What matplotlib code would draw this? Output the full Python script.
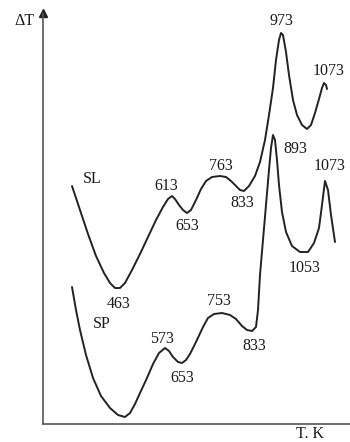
import matplotlib
matplotlib.use("Agg")
import matplotlib.pyplot as plt

# DTA traces (arbitrary position / ΔT units, origin at the axes corner)
sl_x = [29, 37, 45, 53, 61, 67, 72, 77, 82, 89, 97, 105, 113, 120, 125, 129,
        132, 136, 140, 144, 148, 153, 158, 163, 169, 177, 183, 188, 193, 197,
        201, 206, 212, 217, 222, 226, 230, 233, 236, 238, 240, 243, 246, 250,
        254, 259, 264, 268, 272, 276, 279, 281, 283, 284]
sl_y = [238, 214, 190, 168, 151, 141, 136, 136, 141, 154, 170, 187, 204, 217,
        225, 228, 225, 219, 214, 211, 214, 224, 235, 243, 247, 248, 247, 243,
        238, 234, 233, 238, 248, 262, 284, 309, 336, 364, 384, 391, 389, 372,
        349, 324, 309, 299, 295, 299, 311, 325, 336, 341, 339, 335]

sp_x = [29, 33, 37, 43, 50, 58, 67, 75, 82, 87, 92, 97, 104, 110, 116, 122,
        126, 130, 135, 139, 143, 147, 153, 160, 165, 171, 179, 187, 193, 199,
        204, 209, 213, 215, 217, 220, 223, 226, 228, 230, 232, 234, 236, 239,
        243, 249, 257, 265, 271, 276, 279, 282, 285, 288, 292]
sp_y = [137, 114, 94, 69, 46, 28, 16, 9, 7, 11, 20, 31, 46, 60, 71, 76, 73,
        67, 62, 61, 64, 70, 82, 97, 106, 110, 111, 109, 105, 98, 94, 93, 97,
        114, 149, 184, 219, 254, 276, 289, 284, 264, 239, 212, 192, 178, 172,
        172, 181, 196, 219, 243, 234, 209, 182]

# Peak / trough temperature annotations (text, x, y)
labels = [("SL", 49, 245), ("613", 123, 238), ("653", 144, 198),
          ("763", 178, 258), ("833", 199, 221), ("973", 238, 403),
          ("1073", 286, 353), ("893", 252, 275), ("1073", 287, 258),
          ("1053", 262, 156), ("463", 76, 120), ("SP", 59, 100),
          ("573", 119, 85), ("653", 139, 46), ("753", 176, 123),
          ("833", 211, 78)]

W, H = 350, 442
fig = plt.figure(figsize=(W / 100, H / 100), dpi=100)
fig.patch.set_facecolor("white")
x0, y0, x1, y1 = 43, 424, 350, 14
ax = fig.add_axes([x0 / W, (H - y0) / H, (x1 - x0) / W, (y0 - y1) / H])
ax.set_xlim(0, x1 - x0)
ax.set_ylim(0, y0 - y1)
ax.set_facecolor("white")
for side in ("top", "right"):
    ax.spines[side].set_visible(False)
for side in ("left", "bottom"):
    ax.spines[side].set_color("#555555")
    ax.spines[side].set_linewidth(1.2)
ax.set_xticks([])
ax.set_yticks([])

# arrow head on the ΔT axis
ax.plot([0], [y0 - y1 + 1], marker="^", markersize=5.5, color="#222222",
        clip_on=False)

curve_kw = dict(color="#222222", linewidth=1.4, solid_joinstyle="round",
                solid_capstyle="round", clip_on=False)
ax.plot(sl_x, sl_y, **curve_kw)
ax.plot(sp_x, sp_y, **curve_kw)

font = dict(family="Liberation Serif", fontsize=11.5, color="#1a1a1a",
            ha="center", va="center")
for text, x, y in labels:
    ax.text(x, y, text, **font)

ax.text(-19, 403, "ΔT", clip_on=False, **font)
ax.text(267, -10, "T. K", clip_on=False, **font)

fig.savefig("out.png", dpi=100, facecolor="white")
